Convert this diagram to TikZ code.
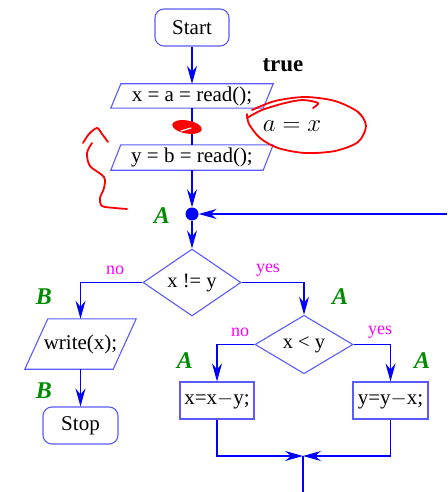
\documentclass[tikz,border=0pt]{standalone}
\usepackage{fontspec}
\setmainfont{Liberation Serif}
\usetikzlibrary{shapes.geometric,arrows.meta}
\definecolor{lineblue}{RGB}{0,0,255}
\definecolor{boxblue}{RGB}{90,90,255}
\definecolor{lblgreen}{RGB}{0,140,0}
\definecolor{lblmag}{RGB}{255,0,255}
\tikzset{
  arr/.style={draw=lineblue, line width=1.1pt, -{Stealth[length=18pt,width=10pt,inset=6pt]}},
  ln/.style={draw=lineblue, line width=1.1pt},
  term/.style={draw=boxblue, line width=1.1pt, rounded corners=9pt, font=\fontsize{21}{24}\selectfont, inner sep=0pt},
  io/.style={rectangle, font=\fontsize{21}{24}\selectfont, inner sep=0pt},
  iobox/.style={draw=boxblue, line width=1.1pt, line join=miter},
  dec/.style={draw=boxblue, line width=1.1pt, diamond, inner sep=0pt, font=\fontsize{20.5}{24}\selectfont},
  proc/.style={draw=boxblue, line width=1.1pt, rectangle, inner sep=0pt, font=\fontsize{21}{24}\selectfont},
  lbl/.style={text=lblgreen, font=\fontsize{24}{28}\selectfont\bfseries\itshape},
  yn/.style={text=lblmag, font=\fontsize{18}{20}\selectfont},
  redpen/.style={draw=red, line width=1.8pt, line cap=round, line join=round}
}
\begin{document}
\begin{tikzpicture}[x=1pt,y=-1pt]
\useasboundingbox (0,0) rectangle (447,492);
% nodes
\node[term, minimum width=74, minimum height=37] (start) at (192,27.5) {Start};
\node[io, minimum width=162, minimum height=24] (p1) at (192,96) {x = a = read();};
\node[io, minimum width=162, minimum height=25] (p2) at (192,157.5) {y = b = read();};
\node[circle, fill=lineblue, inner sep=0pt, minimum size=13] (dot) at (192,214) {};
\node[dec, minimum width=98, minimum height=49] (d1) at (192,282.5) {x != y};
\node[io, minimum width=111, minimum height=50] (w) at (80.5,344) {write(x);};
\node[term, minimum width=75, minimum height=37] (stop) at (80.5,425.5) {Stop};
\node[dec, minimum width=98, minimum height=49] (d2) at (304,344.5) {x < y};
\node[proc, minimum width=74, minimum height=37] (b1) at (217,400.5) {x=x$-$y;};
\node[proc, minimum width=75, minimum height=37] (b2) at (390.5,400.5) {y=y$-$x;};
\coordinate (rin) at (447,214);
\coordinate (m) at (303,456);
\coordinate (bot) at (303,492);
% parallelogram outlines
\draw[iobox] (p1.south west) -- ([xshift=10]p1.north west) -- (p1.north east) -- ([xshift=-10]p1.south east) -- cycle;
\draw[iobox] (p2.south west) -- ([xshift=10]p2.north west) -- (p2.north east) -- ([xshift=-10]p2.south east) -- cycle;
\draw[iobox] (w.south west) -- ([xshift=23]w.north west) -- (w.north east) -- ([xshift=-23]w.south east) -- cycle;
% labels
\node[font=\fontsize{23}{26}\selectfont\bfseries] (true) at (283,65) {true};
\node[lbl] (a1) at (162,216) {A};
\node[lbl] (bb1) at (44,297) {B};
\node[lbl] (bb2) at (44,391) {B};
\node[lbl] (a2) at (340,297) {A};
\node[lbl] (a3) at (185,361) {A};
\node[lbl] (a4) at (422,361) {A};
\node[yn] (no1) at (115,270) {no};
\node[yn] (yes1) at (268,270) {yes};
\node[yn] (no2) at (240,332) {no};
\node[yn] (yes2) at (380,332) {yes};
% connectors
\draw[arr] (start) -- (p1);
\draw[ln] (p1) -- (p2);
\draw[arr] (p2) -- (dot);
\draw[arr] (rin) -- (dot);
\draw[arr] (dot) -- (d1);
\draw[arr] (d1.west) -| (w.north);
\draw[arr] (w) -- (stop);
\draw[arr] (d1.east) -| (d2.north);
\draw[arr] (d2.west) -| (b1.north);
\draw[arr] (d2.east) -| (b2.north);
\draw[arr] (b1.south) |- (m);
\draw[arr] (b2.south) |- (m);
\draw[ln] (m) -- (bot);
% red annotations
\node[font=\fontsize{24}{28}\selectfont] (ax) at (292,126) {$a = x$};
\draw[redpen] plot[smooth] coordinates {(252,110) (275,101) (305,97) (335,101) (358,112) (366,126) (358,142) (335,151) (305,153) (278,148) (260,138) (249,124) (247,114)};
\draw[redpen] plot[smooth] coordinates {(247,118) (262,110) (285,103) (303,100) (318,103) (313,108)};
\fill[red, rotate around={-10:(187,127)}] (187,127) ellipse [x radius=15, y radius=6.5];
\draw[white, line width=1.2pt, line cap=round] (181,131) -- (191,128);
\draw[redpen] plot[smooth] coordinates {(83,143) (89,134) (97,128) (102,134) (108,142)};
\draw[redpen] plot[smooth] coordinates {(92,143) (87,153) (90,166) (104,177) (104,188) (100,198) (102,206) (115,208) (127,209)};
\end{tikzpicture}
\end{document}
